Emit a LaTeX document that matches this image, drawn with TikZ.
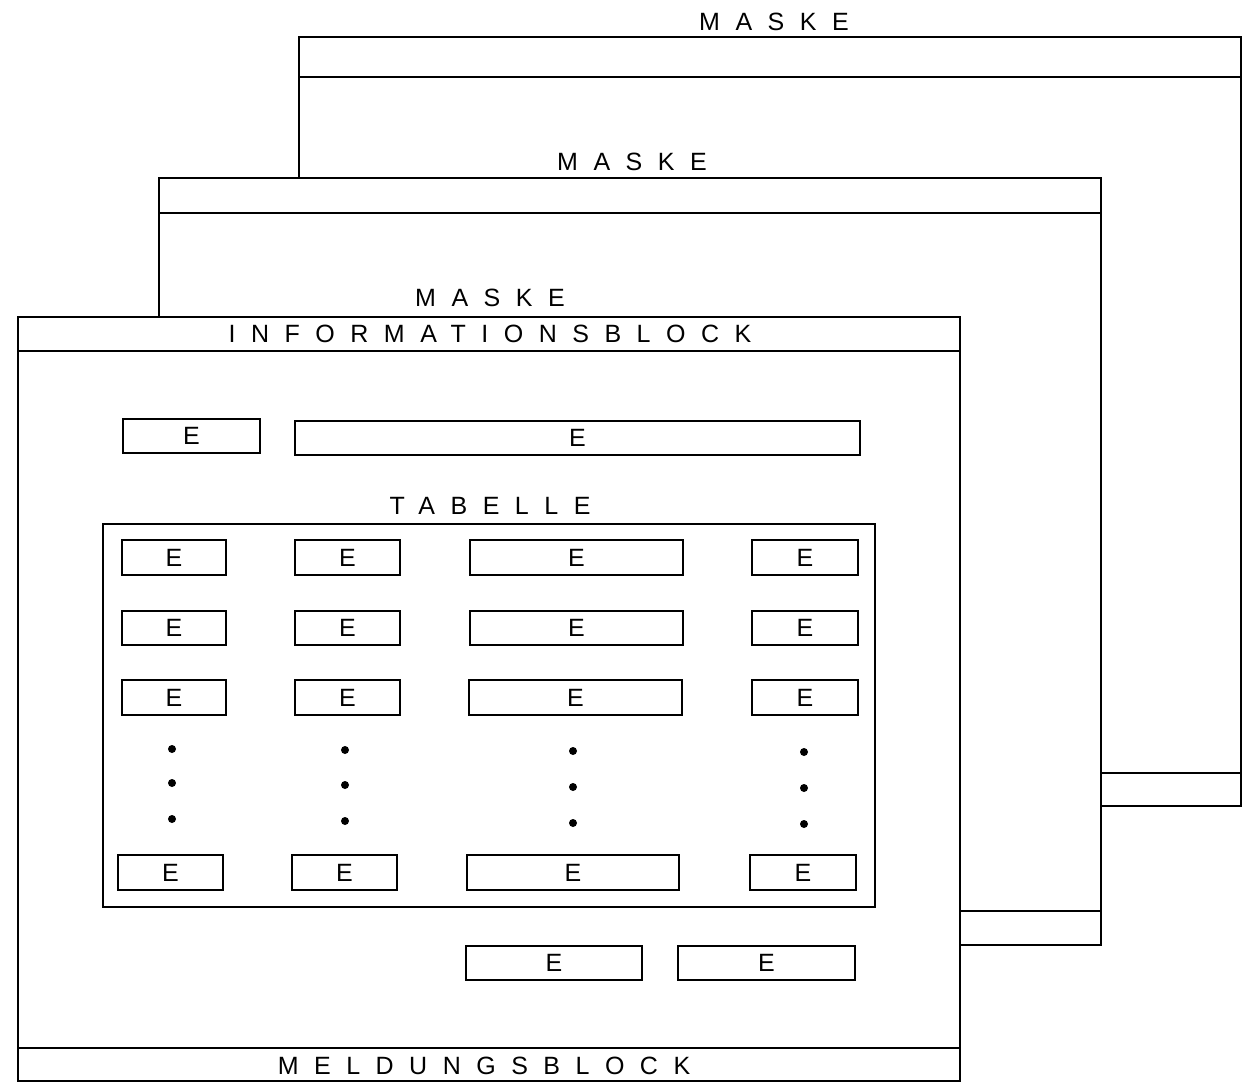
\documentclass[tikz,border=0pt]{standalone}
\usepackage{fontspec}
\setmainfont{Liberation Sans}
\newfontfamily\plotfont[LetterSpace=62]{Liberation Sans}
\newcommand\spaced[1]{{\plotfont #1}}
\tikzset{
  frame/.style={draw, line width=1.4pt, fill=white},
  sep/.style={draw, line width=1.4pt},
  title/.style={inner sep=0pt, font=\fontsize{25}{25}\selectfont},
  ebox/.style={draw, line width=1.4pt, inner sep=0pt, font=\fontsize{25}{25}\selectfont},
  dot/.style={fill=black, circle, inner sep=0pt, minimum size=8pt}
}
\newcommand\eb[5]{\node[ebox, minimum width={#3-#2}, minimum height={#5-#4}] (#1) at ({(#2+#3)/2},{(#4+#5)/2}) {E};}
\begin{document}
\begin{tikzpicture}[x=1pt, y=-1pt]
\useasboundingbox (0,0) rectangle (1245,1083);
% back mask
\draw[frame] (299,37) rectangle (1241,806);
\draw[sep] (299,77) -- (1241,77);
\draw[sep] (299,773) -- (1241,773);
\node[title] (t3) at (774,22) {\spaced{MASKE}};
% middle mask
\draw[frame] (159,178) rectangle (1101,945);
\draw[sep] (159,213) -- (1101,213);
\draw[sep] (159,911) -- (1101,911);
\node[title] (t2) at (632,162) {\spaced{MASKE}};
% front mask
\draw[frame] (18,317) rectangle (960,1081);
\draw[sep] (18,351) -- (960,351);
\draw[sep] (18,1048) -- (960,1048);
\node[title] (t1) at (490,298) {\spaced{MASKE}};
\node[title] (info) at (490,334) {\spaced{INFORMATIONSBLOCK}};
\node[title] (meld) at (484,1066) {\spaced{MELDUNGSBLOCK}};
% info fields
\eb{i1}{123}{260}{419}{453}
\eb{i2}{295}{860}{421}{455}
% table
\node[title] (tab) at (490,506) {\spaced{TABELLE}};
\draw[sep] (103,524) rectangle (875,907);
\eb{a1}{122}{226}{540}{575}
\eb{b1}{295}{400}{540}{575}
\eb{c1}{470}{683}{540}{575}
\eb{d1}{752}{858}{540}{575}
\eb{a2}{122}{226}{611}{645}
\eb{b2}{295}{400}{611}{645}
\eb{c2}{470}{683}{611}{645}
\eb{d2}{752}{858}{611}{645}
\eb{a3}{122}{226}{680}{715}
\eb{b3}{295}{400}{680}{715}
\eb{c3}{469}{682}{680}{715}
\eb{d3}{752}{858}{680}{715}
\eb{a5}{118}{223}{855}{890}
\eb{b5}{292}{397}{855}{890}
\eb{c5}{467}{679}{855}{890}
\eb{d5}{750}{856}{855}{890}
% dots
\foreach \x/\ya/\yb/\yc [count=\i] in {172/749/783/819, 345/750/785/821, 573/751/787/823, 804/752/788/824}{
  \node[dot] (p\i a) at (\x,\ya) {};
  \node[dot] (p\i b) at (\x,\yb) {};
  \node[dot] (p\i c) at (\x,\yc) {};
}
% bottom fields
\eb{f1}{466}{642}{946}{980}
\eb{f2}{678}{855}{946}{980}
\end{tikzpicture}
\end{document}
